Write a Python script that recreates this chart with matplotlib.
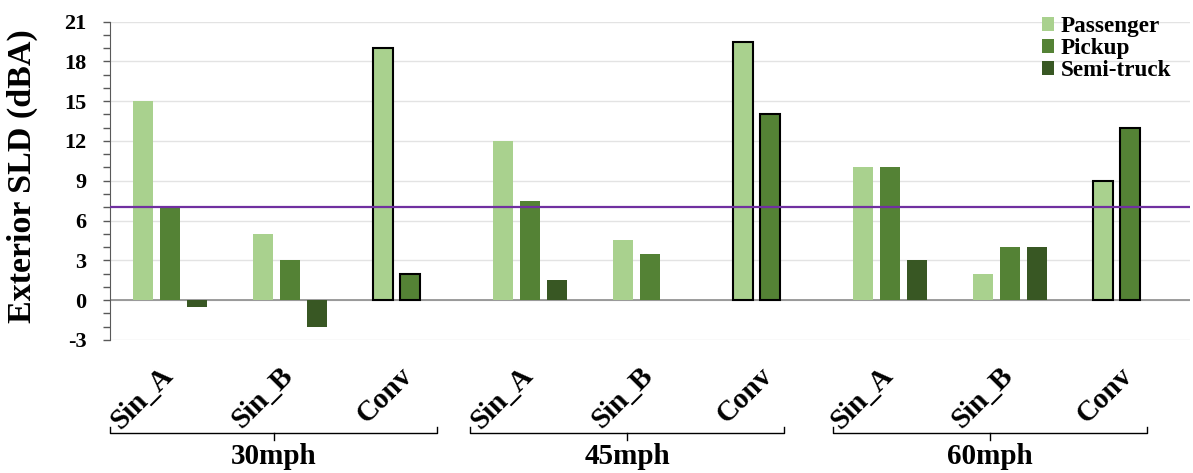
import numpy as np
import matplotlib.pyplot as plt
from matplotlib.patches import Patch

plt.rcParams['font.family'] = ['Liberation Serif', 'DejaVu Serif']
plt.rcParams['font.weight'] = 'bold'
plt.rcParams['axes.unicode_minus'] = False

# datos
speeds = ['30mph', '45mph', '60mph']
types = ['Sin_A', 'Sin_B', 'Conv']
passenger = [15, 5, 19, 12, 4.5, 19.5, 10, 2, 9]
pickup = [7, 3, 2, 7.5, 3.5, 14, 10, 4, 13]
semi = [-0.5, -2, np.nan, 1.5, np.nan, np.nan, 3, 4, np.nan]
threshold = 7

series = [('Passenger', passenger, '#A9D18E'),
          ('Pickup', pickup, '#548235'),
          ('Semi-truck', semi, '#385723')]

fig = plt.figure(figsize=(11.93, 4.73), dpi=100)
ax = fig.add_axes([110 / 1193, 1 - 339.8 / 473, 1080 / 1193, (339.8 - 21.7) / 473])

x = np.arange(len(passenger))
width = 0.167
offsets = [-0.225, 0, 0.225]
is_conv = np.array([t == 'Conv' for s in speeds for t in types])

for (name, vals, color), off in zip(series, offsets):
    vals = np.array(vals, dtype=float)
    ax.bar(x[~is_conv] + off, vals[~is_conv], width, color=color, zorder=2)
    ax.bar(x[is_conv] + off, vals[is_conv], width, color=color,
           edgecolor='black', linewidth=1.5, zorder=2)

ax.axhline(threshold, color='#7030A0', linewidth=1.6, zorder=3)
ax.axhline(0, color='#8c8c8c', linewidth=1.2, zorder=1)

ax.set_xlim(-0.5, 8.5)
ax.set_ylim(-3, 21)
ax.set_yticks(np.arange(-3, 22, 3))
ax.set_yticks(np.arange(-3, 22, 1), minor=True)
ax.yaxis.grid(True, which='major', color='#E3E3E3', linewidth=1, zorder=0)
ax.set_axisbelow(True)
ax.tick_params(axis='y', which='both', length=5, color='#595959', width=1, pad=12,
               labelsize=16)
ax.set_xticks([])
for s in ['top', 'right', 'bottom']:
    ax.spines[s].set_visible(False)
ax.spines['left'].set_color('#595959')
fig.text(22 / 1193, 1 - 176 / 473, 'Exterior SLD (dBA)', rotation=90,
         ha='center', va='center', fontsize=24.5, fontweight='bold')

# etiquetas de categoria
trans = ax.get_xaxis_transform()
for i in range(len(passenger)):
    ax.text(x[i] - 0.01, -0.10, types[i % 3], transform=trans, rotation=45,
            rotation_mode='anchor', ha='right', va='center', fontsize=21,
            fontweight='bold', clip_on=False)

# corchetes de velocidad
brackets = [(-0.5, 2.225), (2.5, 5.117), (5.525, 8.142)]
yb = -0.293
for (x0, x1), sp in zip(brackets, speeds):
    xm = (x0 + x1) / 2
    ax.plot([x0, x0, x1, x1], [yb + 0.02, yb, yb, yb + 0.02], color='black',
            linewidth=1, transform=trans, clip_on=False)
    ax.plot([xm, xm], [yb, yb - 0.022], color='black', linewidth=1,
            transform=trans, clip_on=False)
    ax.text(xm, -0.367, sp, transform=trans, ha='center', va='center',
            fontsize=21, fontweight='bold', clip_on=False)

handles = [Patch(facecolor=c, label=n) for n, v, c in series]
fig.legend(handles=handles, loc='upper right', bbox_to_anchor=(1192 / 1193, 1.01),
           frameon=False, fontsize=16.7, handlelength=0.52, handleheight=0.52,
           handletextpad=0.3, labelspacing=0.05)

fig.savefig('out.png', dpi=100)
